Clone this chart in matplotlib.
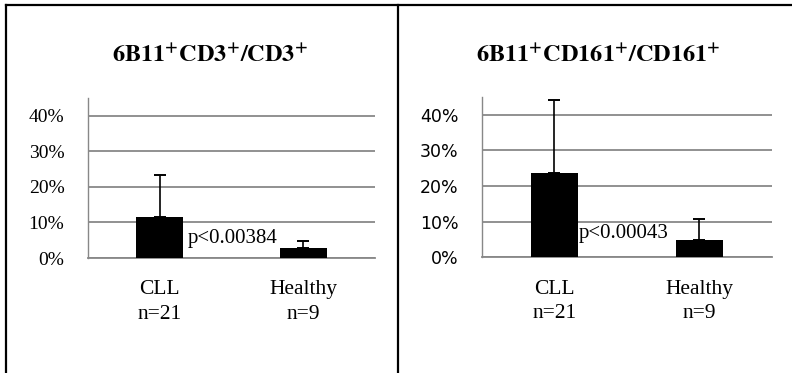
import numpy as np
import matplotlib
matplotlib.use("Agg")
import matplotlib.pyplot as plt
from matplotlib.lines import Line2D

plt.rcParams["mathtext.fontset"] = "stix"

# group labels and values (percent)
groups = ["CLL\nn=21", "Healthy\nn=9"]
cd3_mean = [11.4, 2.8]
cd3_err = [11.8, 2.0]
cd161_mean = [23.7, 4.8]
cd161_err = [20.4, 5.8]

titles = [r"$\mathbf{6B11^{+}CD3^{+}/CD3^{+}}$",
          r"$\mathbf{6B11^{+}CD161^{+}/CD161^{+}}$"]
pvals = ["p<0.00384", "p<0.00043"]
yticks = [0, 10, 20, 30, 40]

fig = plt.figure(figsize=(7.92, 3.73), dpi=100)

# outer frame: left edge, top edge, divider between panels
frame_kw = dict(color="black", linewidth=1.6, transform=fig.transFigure)
fig.add_artist(Line2D([0.0082, 0.0082], [0, 0.9866], **frame_kw))
fig.add_artist(Line2D([0.0082, 1.0], [0.9866, 0.9866], **frame_kw))
fig.add_artist(Line2D([0.5019, 0.5019], [0, 0.9866], **frame_kw))

ax_left = fig.add_axes([0.1111, 0.3083, 0.3624, 0.4297])
ax_right = fig.add_axes([0.6086, 0.3102, 0.3661, 0.4305])

panels = [
    (ax_left, cd3_mean, cd3_err, titles[0], pvals[0], 5.4, 0.197, 0.265,
     dict(family="Liberation Serif", size=14)),
    (ax_right, cd161_mean, cd161_err, titles[1], pvals[1], 6.6, 0.169, 0.755,
     dict(family="DejaVu Sans", size=12.5)),
]

x = np.arange(len(groups))
for ax, mean, err, title, ptxt, py, px, tx, tick_font in panels:
    yerr = [np.zeros(len(err)), err]
    ax.bar(x, mean, width=0.33, color="black", zorder=3)
    ax.errorbar(x, mean, yerr=yerr, fmt="none", ecolor="black",
                elinewidth=1.2, capsize=4.3, capthick=1.4, zorder=4)
    ax.set_xlim(-0.5, 1.5)
    ax.set_ylim(0, 45)
    ax.set_yticks(yticks)
    ax.set_yticklabels([f"{v}%" for v in yticks], **tick_font)
    ax.set_xticks(x)
    ax.set_xticklabels(groups, family="Liberation Serif", size=15.5,
                       linespacing=1.4)
    ax.tick_params(length=0)
    ax.tick_params(axis="x", pad=16)
    ax.tick_params(axis="y", pad=17)
    ax.grid(axis="y", color="#888888", linewidth=1.3, zorder=0)
    for side in ["top", "right"]:
        ax.spines[side].set_visible(False)
    ax.spines["left"].set_color("#888888")
    ax.spines["left"].set_linewidth(1.0)
    ax.spines["bottom"].set_color("#888888")
    ax.spines["bottom"].set_linewidth(1.3)
    ax.text(px, py, ptxt, family="Liberation Serif", size=15,
            va="center", ha="left", zorder=5)
    fig.text(tx, 0.852, title, size=17.5, ha="center", va="center")

fig.savefig("out.png", dpi=100, facecolor="white")
